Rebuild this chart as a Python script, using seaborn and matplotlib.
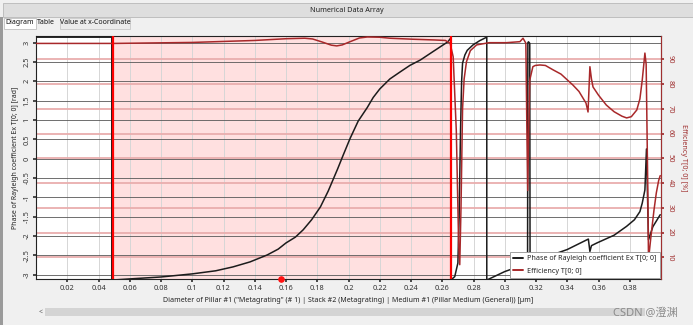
import numpy as np
import pandas as pd
import matplotlib
matplotlib.use("Agg")
import matplotlib.pyplot as plt
from matplotlib.patches import Rectangle
from matplotlib.lines import Line2D
import seaborn as sns

# ---------------- data ----------------
diameter_phase = [0.0, 0.0485, 0.0485, 0.06, 0.08, 0.10, 0.115, 0.126, 0.137, 0.148,
                  0.155, 0.160, 0.166, 0.171, 0.1764, 0.182, 0.187, 0.193, 0.1966, 0.201,
                  0.2062, 0.212, 0.2158, 0.220, 0.2265, 0.233, 0.2393, 0.246, 0.2542, 0.2636,
                  0.2655, 0.2655, 0.268, 0.270, 0.2708, 0.2717, 0.2724, 0.273, 0.2745, 0.276,
                  0.2797, 0.284, 0.2885, 0.2885, 0.300, 0.3146, 0.3148, 0.3152, 0.3160, 0.3162,
                  0.3225, 0.340, 0.3535, 0.3545, 0.3555, 0.359, 0.370, 0.378, 0.383, 0.3865,
                  0.388, 0.3897, 0.3907, 0.392, 0.3948, 0.3995]
phase_rad = [3.14, 3.14, -3.14, -3.11, -3.06, -2.98, -2.90, -2.80, -2.67, -2.49,
             -2.34, -2.18, -2.03, -1.84, -1.58, -1.25, -0.84, -0.27, 0.09, 0.52,
             0.97, 1.32, 1.58, 1.80, 2.06, 2.24, 2.41, 2.55, 2.77, 3.02,
             3.12, -3.14, -3.05, -2.70, -1.50, 0.74, 2.00, 2.47, 2.68, 2.80,
             2.94, 3.05, 3.14, -3.14, -2.92, -2.71, 3.00, 3.02, 2.98, -2.62,
             -2.60, -2.35, -2.08, -2.40, -2.25, -2.18, -1.98, -1.75, -1.58, -1.37,
             -1.15, -0.81, 0.25, -2.10, -1.76, -1.45]

diameter_eff = [0.0, 0.05, 0.10, 0.14, 0.16, 0.172, 0.177, 0.183, 0.189, 0.1925,
                0.196, 0.201, 0.207, 0.212, 0.22, 0.2265, 0.241, 0.255, 0.262, 0.265,
                0.267, 0.269, 0.2705, 0.2712, 0.272, 0.273, 0.274, 0.2755, 0.278, 0.282,
                0.290, 0.301, 0.3097, 0.3117, 0.3135, 0.3142, 0.3147, 0.3153, 0.316, 0.318,
                0.3195, 0.3225, 0.326, 0.331, 0.336, 0.3436, 0.3475, 0.352, 0.3533, 0.3545,
                0.3555, 0.3565, 0.360, 0.365, 0.370, 0.375, 0.378, 0.381, 0.3845, 0.3865,
                0.388, 0.389, 0.3897, 0.3905, 0.3915, 0.392, 0.3935, 0.3955, 0.397, 0.3985,
                0.3995]
efficiency_pct = [96.4, 96.4, 96.8, 97.6, 98.3, 98.5, 98.2, 97.0, 95.7, 95.4,
                  95.8, 97.1, 98.6, 99.0, 98.9, 98.5, 98.1, 97.8, 97.6, 96.5,
                  91.0, 61.0, 15.0, 7.0, 30.0, 70.0, 82.0, 89.0, 93.5, 95.8,
                  96.7, 96.7, 97.1, 98.5, 96.5, 60.0, 37.0, 60.0, 81.6, 87.0,
                  87.5, 87.7, 87.5, 85.7, 84.0, 79.6, 77.0, 72.3, 68.7, 87.0,
                  82.0, 78.8, 75.5, 71.5, 68.8, 67.0, 66.3, 66.8, 69.5, 74.0,
                  81.6, 88.0, 92.5, 88.0, 40.0, 9.0, 18.0, 29.0, 36.0, 41.0,
                  43.0]

x_ticks = [0.02, 0.04, 0.06, 0.08, 0.1, 0.12, 0.14, 0.16, 0.18, 0.2, 0.22, 0.24,
           0.26, 0.28, 0.3, 0.32, 0.34, 0.36, 0.38]
x_tick_labels = ["0.02", "0.04", "0.06", "0.08", "0.1", "0.12", "0.14", "0.16", "0.18",
                 "0.2", "0.22", "0.24", "0.26", "0.28", "0.3", "0.32", "0.34", "0.36", "0.38"]
phase_ticks = [-3, -2.5, -2, -1.5, -1, -0.5, 0, 0.5, 1, 1.5, 2, 2.5, 3]
phase_tick_labels = ["-3", "-2.5", "-2", "-1.5", "-1", "-0.5", "0", "0.5", "1", "1.5", "2", "2.5", "3"]
eff_ticks = [10, 20, 30, 40, 50, 60, 70, 80, 90]
marked_range = [0.049, 0.2655]
marked_point = [0.157]
legend_labels = ["Phase of Rayleigh coefficient Ex T[0; 0]", "Efficiency T[0; 0]"]

x_label = 'Diameter of Pillar #1 ("Metagrating" (# 1) | Stack #2 (Metagrating) | Medium #1 (Pillar Medium (General)) [µm]'
phase_label = "Phase of Rayleigh coefficient Ex T[0; 0] [rad]"
eff_label = "Efficiency T[0; 0] [%]"

df_phase = pd.DataFrame({"diameter": diameter_phase, "phase": phase_rad})
df_eff = pd.DataFrame({"diameter": diameter_eff, "eff": efficiency_pct})

# ---------------- style ----------------
sns.set_theme(style="white")
plt.rcParams['font.family'] = ['Noto Sans', 'Noto Sans CJK SC', 'DejaVu Sans']

PHASE_C = "#1c1c1c"
EFF_C = "#a8282a"
AX_RED = "#a03030"

W, H = 693, 325
fig = plt.figure(figsize=(W / 100, H / 100), dpi=100, facecolor="#f0f0f0")

def fx(px):
    return px / W

def fy(py):
    return 1 - py / H

# ---------------- UI chrome ----------------
fig.patches.append(Rectangle((fx(3), fy(17)), 1, fy(3) - fy(17), transform=fig.transFigure,
                             facecolor="#dedede", edgecolor="#b8b8b8", lw=0.6, zorder=0))
fig.text(fx(347), fy(10), "Numerical Data Array", fontsize=5.2, ha="center", va="center", color="#222222")
fig.patches.append(Rectangle((fx(4), fy(29)), fx(32), fy(18) - fy(29), transform=fig.transFigure,
                             facecolor="#ffffff", edgecolor="#c0c0c0", lw=0.6, zorder=0))
fig.text(fx(20), fy(23), "Diagram", fontsize=5.0, ha="center", va="center", color="#111111")
fig.text(fx(46), fy(23), "Table", fontsize=5.0, ha="center", va="center", color="#111111")
fig.patches.append(Rectangle((fx(60), fy(29)), fx(70), fy(18) - fy(29), transform=fig.transFigure,
                             facecolor="#ececec", edgecolor="#c8c8c8", lw=0.6, zorder=0))
fig.text(fx(95), fy(23), "Value at x-Coordinate", fontsize=5.0, ha="center", va="center", color="#111111")
fig.patches.append(Rectangle((0, fy(325)), fx(3), fy(17) - fy(325), transform=fig.transFigure,
                             facecolor="#9a9a9a", edgecolor="none", zorder=0))
fig.patches.append(Rectangle((fx(45), fy(316)), fx(600), fy(308) - fy(316), transform=fig.transFigure,
                             facecolor="#d4d4d4", edgecolor="none", zorder=0))
fig.text(fx(41), fy(312), "<", fontsize=5, ha="center", va="center", color="#555555")
fig.text(fx(645), fy(313), "CSDN @澄渊", fontsize=8, ha="center", va="center", color="#8a8a8a")

# ---------------- axes ----------------
ax = fig.add_axes([fx(36), fy(279.3), fx(661) - fx(36), fy(36) - fy(279.3)])
ax.set_facecolor("white")
ax2 = ax.twinx()

ylo, yhi = -3.12, 3.17
elo, ehi = 1.1, 99.4
xlo, xhi = 0.0, 0.4

ax.set_xlim(xlo, xhi)
ax.set_ylim(ylo, yhi)
ax2.set_ylim(elo, ehi)

# highlighted range
ax.axvspan(marked_range[0], marked_range[1], facecolor="#ffe0e0", edgecolor="none", zorder=0)

# grid lines
for xt in x_ticks:
    ax.axvline(xt, color="#d6d6d6", lw=0.7, zorder=0.5)
for et in eff_ticks:
    ax.axhline(ylo + (et - elo) / (ehi - elo) * (yhi - ylo), color="#e9aeae", lw=1.3, zorder=0.6)
for pt in phase_ticks:
    ax.axhline(pt, color="#555555", lw=0.7, alpha=0.85, zorder=0.7)

# curves
sns.lineplot(data=df_phase, x="diameter", y="phase", ax=ax, sort=False, estimator=None,
             color=PHASE_C, lw=1.1, legend=False, zorder=3)
sns.lineplot(data=df_eff, x="diameter", y="eff", ax=ax2, sort=False, estimator=None,
             color=EFF_C, lw=1.1, legend=False, zorder=3)

# marker lines and point
for xr in marked_range:
    ax2.axvline(xr, color="#ff0000", lw=1.6, zorder=4)
ax2.scatter(marked_point, [elo], s=14, color="#ff1010", zorder=6, clip_on=False)

# ticks and labels
ax.set_xticks(x_ticks)
ax.set_xticklabels(x_tick_labels)
ax.set_yticks(phase_ticks)
ax.set_yticklabels(phase_tick_labels)
ax.tick_params(axis="x", labelsize=5.3, length=2, pad=2, colors="#333333", bottom=True)
ax.tick_params(axis="y", labelsize=5.3, length=2, pad=2, colors="#333333", left=True,
               labelrotation=90)
for lab in ax.get_yticklabels():
    lab.set_va("center")
ax.set_xlabel(x_label, fontsize=5.1, color="#222222", labelpad=4)
ax.set_ylabel(phase_label, fontsize=5.0, color="#222222", labelpad=3)

ax2.set_yticks(eff_ticks)
ax2.tick_params(axis="y", labelsize=5.3, length=2, pad=2, colors=AX_RED, right=True,
                labelrotation=270)
for lab in ax2.get_yticklabels():
    lab.set_va("center")
ax2.set_ylabel(eff_label, fontsize=5.2, color=AX_RED, rotation=270, va="bottom", labelpad=5)
ax2.grid(False)
ax.grid(False)

for name, sp in ax.spines.items():
    sp.set_color("#222222")
    sp.set_linewidth(0.8)
for name, sp in ax2.spines.items():
    if name == "right":
        sp.set_color(AX_RED)
        sp.set_linewidth(0.8)
    else:
        sp.set_visible(False)

# legend
handles = [Line2D([0], [0], color=PHASE_C, lw=1.4), Line2D([0], [0], color=EFF_C, lw=1.4)]
leg = ax2.legend(handles, legend_labels, loc="lower right", bbox_to_anchor=(1.0, 0.0),
                 fontsize=5.2, frameon=True, fancybox=False, framealpha=1.0,
                 edgecolor="#a0a0a0", handlelength=1.3, handletextpad=0.6,
                 borderpad=0.5, labelspacing=0.7, borderaxespad=0.15)
leg.get_frame().set_linewidth(0.7)
leg.set_zorder(10)

fig.savefig("out.png", dpi=100, facecolor=fig.get_facecolor())
